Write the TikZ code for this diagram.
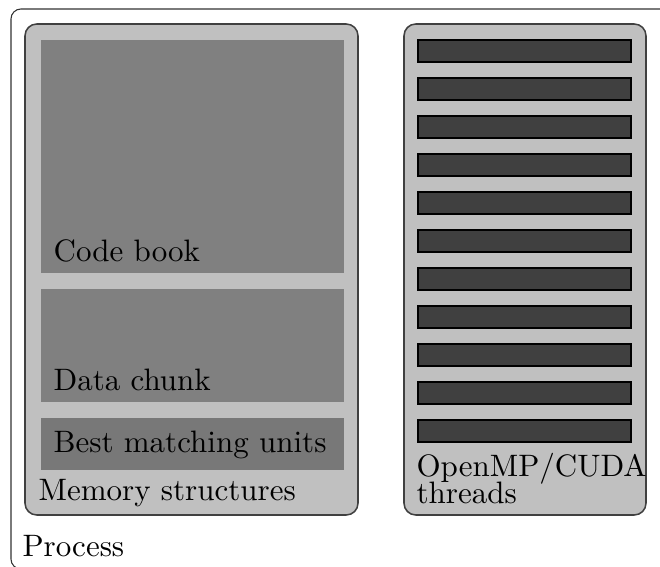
\documentclass[tikz,border=0pt]{standalone}
\newlength\pxu
\setlength\pxu{0.3226pt}
\definecolor{boxfill}{HTML}{C0C0C0}
\definecolor{partfill}{HTML}{808080}
\definecolor{bmufill}{HTML}{787878}
\definecolor{barfill}{HTML}{404040}
\begin{document}
\begin{tikzpicture}[x=\pxu,y=-\pxu,
  procline/.style={draw=black!80, line width=0.35pt, rounded corners=3.2pt},
  groupbox/.style={draw=black!75, line width=0.5pt, fill=boxfill, rounded corners=3.8pt},
  partbox/.style={fill=partfill},
  bmubox/.style={fill=bmufill},
  barbox/.style={draw=black, line width=0.4pt, fill=barfill},
  lbl/.style={anchor=base west, inner sep=0pt, font=\normalsize}]
\useasboundingbox (0,0) rectangle (660,567);
% process
\draw[procline] (11,9) coordinate (procNW) rectangle (720,569) coordinate (procSE);
% memory structures
\draw[groupbox] (25,24) coordinate (memNW) rectangle (358,515) coordinate (memSE);
\fill[partbox] (41,40) coordinate (cbNW) rectangle (344,273) coordinate (cbSE);
\fill[partbox] (41,289) coordinate (dcNW) rectangle (344,402) coordinate (dcSE);
\fill[bmubox] (41,418) coordinate (bmuNW) rectangle (344,470) coordinate (bmuSE);
% threads
\draw[groupbox] (404,24) coordinate (thNW) rectangle (646,515) coordinate (thSE);
\foreach \i in {0,...,10}
  \draw[barbox] (418,40+38*\i) coordinate (bar\i NW) rectangle (631,62+38*\i) coordinate (bar\i SE);
% labels
\node[lbl] (cblabel) at (53,262) {Code book};
\node[lbl] (dclabel) at (53,391) {Data chunk};
\node[lbl] (bmulabel) at (53,452) {Best matching units};
\node[lbl] (memlabel) at (38,500) {Memory structures};
\node[lbl] (thlabel1) at (416,476) {OpenMP/CUDA};
\node[lbl] (thlabel2) at (416,503) {threads};
\node[lbl] (proclabel) at (22,556) {Process};
\end{tikzpicture}
\end{document}
